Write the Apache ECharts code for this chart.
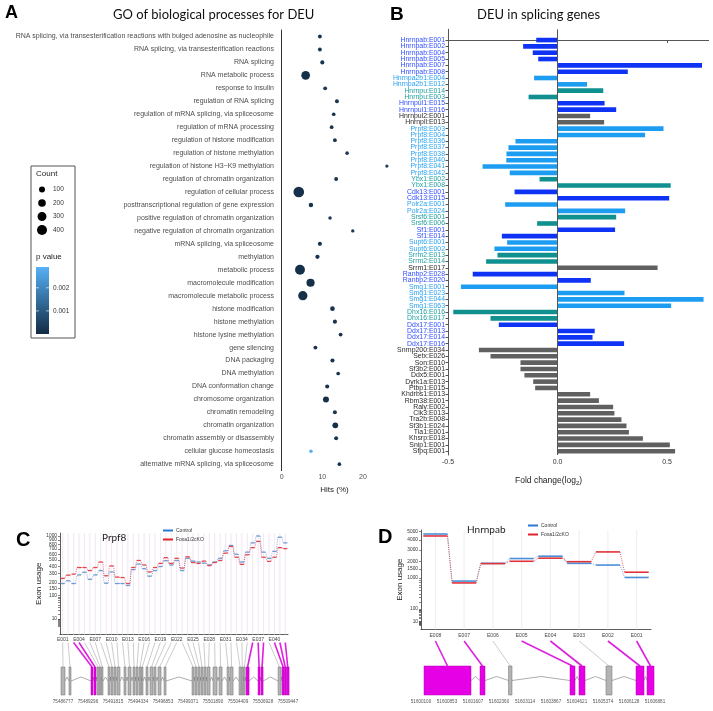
<!DOCTYPE html>
<html><head><meta charset="utf-8">
<script src="https://cdn.jsdelivr.net/npm/echarts@6/dist/echarts.min.js"></script>
<style>html,body{margin:0;padding:0;background:#fff}#c{width:713px;height:711px}</style>
</head><body><div id="c"></div><script>
// ---------------- Panel A data ----------------
const goTerms = ["RNA splicing, via transesterification reactions with bulged adenosine as nucleophile","RNA splicing, via transesterification reactions","RNA splicing","RNA metabolic process","response to insulin","regulation of RNA splicing","regulation of mRNA splicing, via spliceosome","regulation of mRNA processing","regulation of histone modification","regulation of histone methylation","regulation of histone H3\u2212K9 methylation","regulation of chromatin organization","regulation of cellular process","posttranscriptional regulation of gene expression","positive regulation of chromatin organization","negative regulation of chromatin organization","mRNA splicing, via spliceosome","methylation","metabolic process","macromolecule modification","macromolecule metabolic process","histone modification","histone methylation","histone lysine methylation","gene silencing","DNA packaging","DNA methylation","DNA conformation change","chromosome organization","chromatin remodeling","chromatin organization","chromatin assembly or disassembly","cellular glucose homeostasis","alternative mRNA splicing, via spliceosome"];
const goHits = [9.4,9.4,10.0,5.9,10.7,13.6,12.8,12.3,13.1,16.1,25.9,13.4,4.2,7.2,11.9,17.5,9.4,8.8,4.5,7.1,5.2,12.5,13.1,14.5,8.3,12.5,13.9,11.2,10.9,13.1,13.2,13.4,7.2,14.2];
const goCount = [22,22,28,280,22,22,18,18,20,15,10,22,470,40,15,12,28,32,390,240,330,45,28,22,22,30,18,28,100,25,90,25,15,18];
const goPval = [0.0002,0.0002,0.0002,0.0001,0.0003,0.0002,0.0002,0.0002,0.0002,0.0003,0.0004,0.0002,0.0001,0.0002,0.0003,0.0003,0.0002,0.0002,0.0001,0.0001,0.0001,0.0002,0.0002,0.0002,0.0002,0.0002,0.0002,0.0002,0.0001,0.0002,0.0001,0.0002,0.0029,0.0002];
const hitTicks = [0,10,20];
const countLegend = [100,200,300,400];
const pvalTicks = [0.001,0.002];

// ---------------- Panel B data ----------------
const deuExons = ["Hnrnpab:E001","Hnrnpab:E002","Hnrnpab:E004","Hnrnpab:E005","Hnrnpab:E007","Hnrnpab:E008","Hnrnpa2b1:E004","Hnrnpa2b1:E012","Hnrnpu:E014","Hnrnpu:E003","Hnrnpul1:E015","Hnrnpul1:E016","Hnrnpul2:E001","Hnrnpll:E013","Prpf8:E003","Prpf8:E004","Prpf8:E036","Prpf8:E037","Prpf8:E038","Prpf8:E040","Prpf8:E041","Prpf8:E042","Ybx1:E002","Ybx1:E008","Cdk13:E001","Cdk13:E015","Polr2a:E001","Polr2a:E024","Srsf6:E001","Srsf6:E006","Sf1:E001","Sf1:E014","Supt6:E001","Supt6:E002","Srrm2:E013","Srrm2:E014","Srrm1:E017","Ranbp2:E028","Ranbp2:E020","Smg1:E001","Smg1:E023","Smg1:E044","Smg1:E063","Dhx16:E016","Dhx16:E017","Ddx17:E001","Ddx17:E013","Ddx17:E014","Ddx17:E016","Snrnp200:E034","Setx:E026","Son:E010","Sf3b2:E001","Ddx5:E001","Dyrk1a:E013","Ptbp1:E015","Khdrbs1:E013","Rbm38:E001","Raly:E002","Clk3:E013","Tra2b:E008","Sf3b1:E024","Tia1:E001","Khsrp:E018","Snip1:E001","Sfpq:E001"];
const deuFold = [-0.097,-0.157,-0.113,-0.088,0.66,0.321,-0.107,0.135,0.209,-0.132,0.215,0.268,0.149,0.213,0.484,0.40,-0.192,-0.224,-0.233,-0.234,-0.342,-0.218,-0.082,0.517,-0.196,0.51,-0.239,0.309,0.268,-0.093,0.263,-0.254,-0.23,-0.288,-0.274,-0.326,0.457,-0.387,0.152,-0.441,0.306,0.667,0.519,-0.476,-0.306,-0.268,0.17,0.16,0.304,-0.359,-0.306,-0.169,-0.169,-0.151,-0.111,-0.102,0.149,0.189,0.254,0.26,0.292,0.315,0.326,0.39,0.513,0.537];
const deuClass = ["b","b","b","b","b","b","l","l","t","t","b","b","k","k","l","l","l","l","l","l","l","l","t","t","b","b","l","l","t","t","b","b","l","l","t","t","k","b","b","l","l","l","l","t","t","b","b","b","b","k","k","k","k","k","k","k","k","k","k","k","k","k","k","k","k","k"];
const foldTicks = [-0.5,0,0.5];

// ---------------- Panel C data (Prpf8) ----------------
const prpf8Exons = ["E001","E002","E003","E004","E005","E006","E007","E008","E009","E010","E011","E012","E013","E014","E015","E016","E017","E018","E019","E020","E021","E022","E023","E024","E025","E026","E027","E028","E029","E030","E031","E032","E033","E034","E035","E036","E037","E038","E039","E040","E041","E042"];
const prpf8Control = [193,220,193,285,318,235,285,340,196,322,193,193,175,352,433,365,270,340,396,486,419,490,340,527,480,465,448,419,465,527,665,777,600,465,640,835,1000,640,527,655,970,835];
const prpf8KO = [245,282,295,382,382,340,382,465,275,405,260,255,193,382,490,419,322,382,443,538,443,527,374,553,457,443,480,410,457,490,620,755,545,428,590,730,870,545,475,545,730,710];
const prpf8Start = [75486575,75487382,75489599,75489902,75490204,75490456,75490658,75491313,75491615,75491918,75492220,75492926,75493329,75493833,75494135,75494438,75494690,75495143,75495547,75495950,75496353,75496958,75499780,75500083,75500385,75500687,75500990,75501292,75501897,75502502,75503308,75503611,75504518,75504770,75504972,75505223,75506433,75506735,75508449,75508852,75509084,75509285];
const prpf8End = [75486979,75487583,75489801,75490103,75490406,75490607,75490809,75491515,75491817,75492119,75492523,75493127,75493631,75494035,75494337,75494639,75494841,75495345,75495849,75496151,75496655,75497159,75499982,75500284,75500587,75500889,75501191,75501595,75502300,75502804,75503510,75503913,75504720,75504921,75505123,75505525,75506635,75506937,75508751,75509054,75509255,75509557];
const prpf8Sig = [0,0,1,1,0,0,0,0,0,0,0,0,0,0,0,0,0,0,0,0,0,0,0,0,0,0,0,0,0,0,0,0,0,0,0,1,1,1,0,1,1,1];
const prpf8GenomeTicks = [75486777,75489296,75491815,75494334,75496853,75499371,75501890,75504409,75506928,75509447];
const prpf8UsageTicks = [10,100,150,200,300,400,500,600,700,800,1000];
const prpf8UsageTicksExtra = [900];
const prpf8MinorTicks = [2,3,4,5,6,7,8,9,20,30,40,50,60,70,80,90];

// ---------------- Panel D data (Hnrnpab) ----------------
const hnrnpabExons = ["E008","E007","E006","E005","E004","E003","E002","E001"];
const hnrnpabControl = [4710,860,1880,2240,2430,1880,1760,1030];
const hnrnpabKO = [4470,780,1860,2030,2270,2000,2800,1310];
const hnrnpabStart = [51600187,51601810,51602636,51604418,51604679,51605461,51606331,51606650];
const hnrnpabEnd = [51601549,51601955,51602737,51604563,51604853,51605635,51606563,51606853];
const hnrnpabSig = [1,1,0,1,1,0,1,1];
const hnrnpabGenomeTicks = [51600100,51600853,51601607,51602360,51603114,51603867,51604621,51605374,51606128,51606881];
const hnrnpabUsageTicks = [10,100,1000,1500,2000,3000,4000,5000];
const hnrnpabMinorTicks = [2,3,4,5,6,7,8,9,20,30,40,50,60,70,80,90,200,300,400,500,600,700,800,900];

// ---------------- styles / layout ----------------
const FONT = 'Liberation Sans';
const TFONT = 'Lato';
const USAGE_POW = 0.4;
const T = v => Math.pow(v, USAGE_POW);
const invT = t => Math.round(Math.pow(t, 1 / USAGE_POW));
const classBar = {b:'#0f33f5', l:'#1d9df2', t:'#119090', k:'#606060'};
const classLabel = {b:'#2f4dff', l:'#27a2f0', t:'#1f9e9e', k:'#2a2a2a'};
const GA = {left:277, top:30, width:115, height:440.7};
const GB = {left:448, top:29.3, width:260.6, height:425.7};
const GC = {left:60, top:533, width:228, height:101.6};
const GCg = {left:60, top:667, width:228, height:28};
const GD = {left:421, top:530, width:230, height:99.4};
const GDg = {left:421, top:666, width:234, height:29};
const sizeOf = c => 2 + 0.4 * Math.sqrt(c);
const pMax = 0.0029;
const colLow = '#132B43', colHigh = '#56B1F7';

const chart = echarts.init(document.getElementById('c'), null, {renderer:'canvas'});

function stepRender(vals, color, hwFrac, lw) {
  return function (params, api) {
    const i = params.dataIndex, n = vals.length;
    const p = api.coord([i, T(vals[i])]);
    const hw = api.size([1, 0])[0] * hwFrac;
    const kids = [{type:'line', shape:{x1:p[0]-hw, y1:p[1], x2:p[0]+hw, y2:p[1]}, style:{stroke:color, lineWidth:lw}}];
    if (i < n - 1) {
      const q = api.coord([i + 1, T(vals[i + 1])]);
      kids.push({type:'line', shape:{x1:p[0]+hw, y1:p[1], x2:q[0]-hw, y2:q[1]}, style:{stroke:color, lineWidth:1, lineDash:[1,1.2], opacity:0.8}});
    }
    return {type:'group', children:kids};
  };
}
function vgridRender(color) {
  return function (params, api) {
    const x = api.coord([params.dataIndex, 0])[0];
    const cs = params.coordSys;
    return {type:'line', shape:{x1:x, y1:cs.y, x2:x, y2:cs.y + cs.height}, style:{stroke:color, lineWidth:0.8}};
  };
}
function geneRender(starts, ends, sig, upper, connH) {
  return function (params, api) {
    const i = params.dataIndex, n = starts.length;
    const a = api.coord([starts[i], 1]), b = api.coord([ends[i], 0]);
    const x0 = a[0], x1 = Math.max(b[0], a[0] + 1.3), yT = a[1], yB = b[1], yM = (yT + yB) / 2;
    const kids = [];
    if (i < n - 1) {
      const nx = api.coord([starts[i + 1], 0])[0];
      if (nx > x1 + 0.5) kids.push({type:'polyline', shape:{points:[[x1, yM], [(x1 + nx) / 2, yM - 4], [nx, yM]]}, style:{stroke:'#8a8a8a', lineWidth:0.7, fill:null}});
    }
    const tx = upper.left + (i + 0.5) * upper.width / n;
    kids.push({type:'line', shape:{x1:tx, y1:yT - connH, x2:(x0 + x1) / 2, y2:yT}, style:{stroke: sig[i] ? '#dd22dd' : '#a8a8a8', lineWidth: sig[i] ? 1.6 : 0.6}});
    kids.push({type:'rect', shape:{x:x0, y:yT, width:x1 - x0, height:yB - yT}, style:{fill: sig[i] ? '#e600e6' : '#b4b4b4', stroke: sig[i] ? '#b000b0' : '#6e6e6e', lineWidth:0.5}});
    return {type:'group', children:kids};
  };
}
function barRender(params, api) {
  const v = api.value(0), i = api.value(1);
  const a = api.coord([0, i]), b = api.coord([v, i]);
  const h = 4.6;
  return {type:'rect', shape:{x:Math.min(a[0], b[0]), y:a[1] - h / 2, width:Math.abs(b[0] - a[0]), height:h}, style:{fill:classBar[deuClass[i]]}};
}

// count legend graphics
const legendGraphics = [
  {type:'rect', shape:{x:31, y:166, width:44, height:172}, style:{fill:'#fff', stroke:'#555', lineWidth:1}},
  {type:'text', x:36, y:170, style:{text:'Count', font:'8px ' + FONT, fill:'#222'}},
  {type:'text', x:36, y:253, style:{text:'p value', font:'8px ' + FONT, fill:'#222'}},
  {type:'rect', shape:{x:36, y:267, width:13, height:67}, style:{fill:new echarts.graphic.LinearGradient(0, 0, 0, 1, [{offset:0, color:colHigh}, {offset:1, color:colLow}])}}
];
countLegend.forEach((c, k) => {
  const cy = 189.5 + k * 13.5;
  legendGraphics.push({type:'circle', shape:{cx:42, cy:cy, r:sizeOf(c) / 2}, style:{fill:'#000'}});
  legendGraphics.push({type:'text', x:53, y:cy - 3.5, style:{text:String(c), font:'6.5px ' + FONT, fill:'#333'}});
});
pvalTicks.forEach(p => {
  const y = 334 - p / pMax * 67;
  legendGraphics.push({type:'line', shape:{x1:36, y1:y, x2:39, y2:y}, style:{stroke:'#fff', lineWidth:0.6}});
  legendGraphics.push({type:'line', shape:{x1:46, y1:y, x2:49, y2:y}, style:{stroke:'#fff', lineWidth:0.6}});
  legendGraphics.push({type:'text', x:53, y:y - 3.5, style:{text:p.toFixed(3), font:'6.5px ' + FONT, fill:'#333'}});
});

const axLine = {lineStyle:{color:'#333', width:1}};
const intFmt = v => String(Math.round(Number(v)));
const richB = {};
Object.keys(classLabel).forEach(k => { richB[k] = {color:classLabel[k], fontSize:6.9, fontFamily:FONT}; });
const deuIdx = deuExons.map((_, i) => i);
const deuEven = deuIdx.filter(i => i % 2 === 0), deuOdd = deuIdx.filter(i => i % 2 === 1);
const deuFmt = v => { const i = Math.round(Number(v)); return '{' + deuClass[i] + '|' + deuExons[i] + '}'; };
function deuLabelAxis(vals, withLine) {
  return {gridIndex:1, type:'value', inverse:true, min:-1.7, max:65.6, splitLine:{show:false}, position:'left',
    axisLine:{show:withLine, onZero:false, lineStyle:{color:'#555', width:1}},
    axisTick:{show:withLine, customValues:deuIdx, length:2.5, lineStyle:{color:'#555'}},
    axisLabel:{customValues:vals, showMinLabel:true, showMaxLabel:true, margin:3, fontSize:6.9, fontFamily:FONT, formatter:deuFmt, rich:richB}};
}
function usageAxis(grid, maxV, labelVals, tickVals, nameGap, showLine) {
  return {gridIndex:grid, type:'value', position:'left', min:0, max:T(maxV), splitLine:{show:false},
    name: showLine ? 'Exon usage' : '', nameLocation:'middle', nameGap:nameGap, nameTextStyle:{fontSize:8, fontFamily:FONT, color:'#222'},
    axisLine:{show:showLine, onZero:false, lineStyle:{color:'#333', width:0.8}},
    axisTick:{show:showLine, customValues:tickVals.map(T), length:2, lineStyle:{color:'#333', width:0.6}},
    axisLabel:{customValues:labelVals.map(T), showMinLabel:true, showMaxLabel:true, fontSize:4.8, fontFamily:FONT, color:'#333', margin:3, formatter:v => String(invT(Number(v)))}};
}
const option = {
  animation:false,
  backgroundColor:'#fff',
  title:[
    {text:'A', left:5, top:4, padding:0, textStyle:{fontSize:18, fontWeight:'bold', fontFamily:FONT, color:'#000'}},
    {text:'GO of biological processes for DEU', left:113, top:8, padding:0, textStyle:{fontSize:13, fontWeight:'normal', fontFamily:TFONT, color:'#111'}},
    {text:'B', left:390, top:5, padding:0, textStyle:{fontSize:19, fontWeight:'bold', fontFamily:FONT, color:'#000'}},
    {text:'DEU in splicing genes', left:477, top:8, padding:0, textStyle:{fontSize:13, fontWeight:'normal', fontFamily:TFONT, color:'#111'}},
    {text:'{a|Fold change(log}{s|2}{a|)}', left:515, top:475, padding:0, textStyle:{fontWeight:'normal', rich:{a:{fontSize:8.5, fontWeight:'normal', fontFamily:FONT, color:'#222'}, s:{fontSize:6, fontWeight:'normal', fontFamily:FONT, color:'#222', padding:[5,0,0,0]}}}},
    {text:'C', left:16, top:530, padding:0, textStyle:{fontSize:20, fontWeight:'bold', fontFamily:FONT, color:'#000'}},
    {text:'Prpf8', left:102, top:533, padding:0, textStyle:{fontSize:10, fontWeight:'normal', fontFamily:TFONT, color:'#222'}},
    {text:'D', left:378, top:527, padding:0, textStyle:{fontSize:20, fontWeight:'bold', fontFamily:FONT, color:'#000'}},
    {text:'Hnrnpab', left:467, top:525, padding:0, textStyle:{fontSize:10, fontWeight:'normal', fontFamily:TFONT, color:'#222'}}
  ],
  legend:[
    {left:163, top:528, orient:'vertical', itemWidth:10, itemHeight:2, itemGap:4, padding:0, textStyle:{fontSize:5, fontFamily:FONT, color:'#333', padding:[0,0,0,-2]}, data:[{name:'Control', icon:'rect', itemStyle:{color:'#2a78d2'}}, {name:'Foxa1/2cKO', icon:'rect', itemStyle:{color:'#e0222a'}}]},
    {left:528, top:523, orient:'vertical', itemWidth:10, itemHeight:2, itemGap:4, padding:0, textStyle:{fontSize:5, fontFamily:FONT, color:'#333', padding:[0,0,0,-2]}, data:[{name:'Control', icon:'rect', itemStyle:{color:'#2a78d2'}}, {name:'Foxa1/2cKO', icon:'rect', itemStyle:{color:'#e0222a'}}]}
  ],
  grid:[GA, GB, GC, GCg, GD, GDg].map(g => Object.assign({containLabel:false}, g)),
  visualMap:[{type:'continuous', show:false, seriesIndex:0, dimension:3, min:0, max:pMax, inRange:{color:[colLow, colHigh]}}],
  xAxis:[
    {gridIndex:0, type:'value', min:-1.16, max:27.16, name:'Hits (%)', nameLocation:'middle', nameGap:15, nameTextStyle:{fontSize:8, fontFamily:FONT, color:'#222'},
     axisLine:axLine, axisTick:{customValues:hitTicks, length:3, lineStyle:{color:'#333'}}, axisLabel:{customValues:hitTicks, showMinLabel:true, showMaxLabel:true, fontSize:7, fontFamily:FONT, color:'#4d4d4d', margin:3}, splitLine:{show:false}},
    {gridIndex:1, type:'value', min:-0.5, max:0.69,
     axisLine:{lineStyle:{color:'#555', width:1}}, axisTick:{customValues:foldTicks, length:3, lineStyle:{color:'#555'}}, axisLabel:{customValues:foldTicks, showMinLabel:true, showMaxLabel:true, fontSize:7, fontFamily:FONT, color:'#333', margin:4, formatter:v => Number(v).toFixed(1)}, splitLine:{show:false}},
    {gridIndex:2, type:'category', data:prpf8Exons, boundaryGap:true,
     axisLine:{lineStyle:{color:'#333', width:0.8}}, axisTick:{alignWithLabel:true, interval:0, length:2, lineStyle:{color:'#333', width:0.6}}, axisLabel:{interval:2, fontSize:5, fontFamily:FONT, color:'#444', margin:3}},
    {gridIndex:3, type:'value', min:75486475, max:75509448,
     axisLine:{show:false}, axisTick:{show:false}, splitLine:{show:false}, axisLabel:{customValues:prpf8GenomeTicks, showMinLabel:true, showMaxLabel:true, formatter:intFmt, fontSize:4.6, fontFamily:FONT, color:'#555', margin:4}},
    {gridIndex:4, type:'category', data:hnrnpabExons, boundaryGap:true,
     axisLine:{lineStyle:{color:'#333', width:0.8}}, axisTick:{alignWithLabel:true, interval:0, length:2, lineStyle:{color:'#333', width:0.6}}, axisLabel:{interval:0, fontSize:5, fontFamily:FONT, color:'#444', margin:4}},
    {gridIndex:5, type:'value', min:51600100, max:51606881,
     axisLine:{show:false}, axisTick:{show:false}, splitLine:{show:false}, axisLabel:{customValues:hnrnpabGenomeTicks, showMinLabel:true, showMaxLabel:true, formatter:intFmt, fontSize:4.6, fontFamily:FONT, color:'#555', margin:4}}
  ],
  yAxis:[
    {gridIndex:0, type:'category', data:goTerms, inverse:true, axisLine:axLine, axisTick:{length:3, interval:0, alignWithLabel:true, lineStyle:{color:'#333'}}, axisLabel:{interval:0, fontSize:7, fontFamily:FONT, color:'#4d4d4d', margin:3}},
    deuLabelAxis(deuEven, true),
    usageAxis(2, 1078, prpf8UsageTicks, prpf8UsageTicks.concat(prpf8UsageTicksExtra, prpf8MinorTicks), 13, true),
    {gridIndex:3, type:'value', min:0, max:1, show:false},
    usageAxis(4, 5220, hnrnpabUsageTicks, hnrnpabUsageTicks.concat(hnrnpabMinorTicks), 14, true),
    {gridIndex:5, type:'value', min:0, max:1, show:false},
    deuLabelAxis(deuOdd, false),
    usageAxis(2, 1078, prpf8UsageTicksExtra, [], 13, false)
  ],
  series:[
    {type:'scatter', xAxisIndex:0, yAxisIndex:0, data:goHits.map((h, i) => [h, i, goCount[i], goPval[i]]),
     symbolSize:v => sizeOf(v[2]), itemStyle:{opacity:1}, encode:{x:0, y:1}},
    {type:'custom', xAxisIndex:1, yAxisIndex:1, renderItem:barRender, data:deuFold.map((v, i) => [v, i]), encode:{x:0, y:1},
     markLine:{silent:true, symbol:'none', label:{show:false}, lineStyle:{color:'#555', width:1, type:'solid'}, data:[{xAxis:0}]}},
    {type:'custom', xAxisIndex:2, yAxisIndex:2, renderItem:vgridRender('#efe0ef'), data:prpf8Exons.map((_, i) => [i, 0]), silent:true, z:1},
    {type:'custom', name:'Control', xAxisIndex:2, yAxisIndex:2, itemStyle:{color:'#2a78d2'}, renderItem:stepRender(prpf8Control, '#6d9bd6', 0.37, 1.3), data:prpf8Control.map((v, i) => [i, T(v)]), z:3},
    {type:'custom', name:'Foxa1/2cKO', xAxisIndex:2, yAxisIndex:2, itemStyle:{color:'#e0222a'}, renderItem:stepRender(prpf8KO, '#e2474f', 0.37, 1.3), data:prpf8KO.map((v, i) => [i, T(v)]), z:3},
    {type:'custom', xAxisIndex:3, yAxisIndex:3, renderItem:geneRender(prpf8Start, prpf8End, prpf8Sig, GC, 24.5), data:prpf8Start.map((s, i) => [s, prpf8End[i]]), encode:{x:[0, 1]}},
    {type:'custom', xAxisIndex:4, yAxisIndex:4, renderItem:vgridRender('#ece4f1'), data:hnrnpabExons.map((_, i) => [i, 0]), silent:true, z:1},
    {type:'custom', name:'Control', xAxisIndex:4, yAxisIndex:4, itemStyle:{color:'#2a78d2'}, renderItem:stepRender(hnrnpabControl, '#4a8fd6', 0.42, 1.6), data:hnrnpabControl.map((v, i) => [i, T(v)]), z:3},
    {type:'custom', name:'Foxa1/2cKO', xAxisIndex:4, yAxisIndex:4, itemStyle:{color:'#e0222a'}, renderItem:stepRender(hnrnpabKO, '#e0333a', 0.42, 1.6), data:hnrnpabKO.map((v, i) => [i, T(v)]), z:3},
    {type:'custom', xAxisIndex:5, yAxisIndex:5, renderItem:geneRender(hnrnpabStart, hnrnpabEnd, hnrnpabSig, GD, 25), data:hnrnpabStart.map((s, i) => [s, hnrnpabEnd[i]]), encode:{x:[0, 1]}}
  ],
  graphic:legendGraphics
};
chart.setOption(option);
</script></body></html>
